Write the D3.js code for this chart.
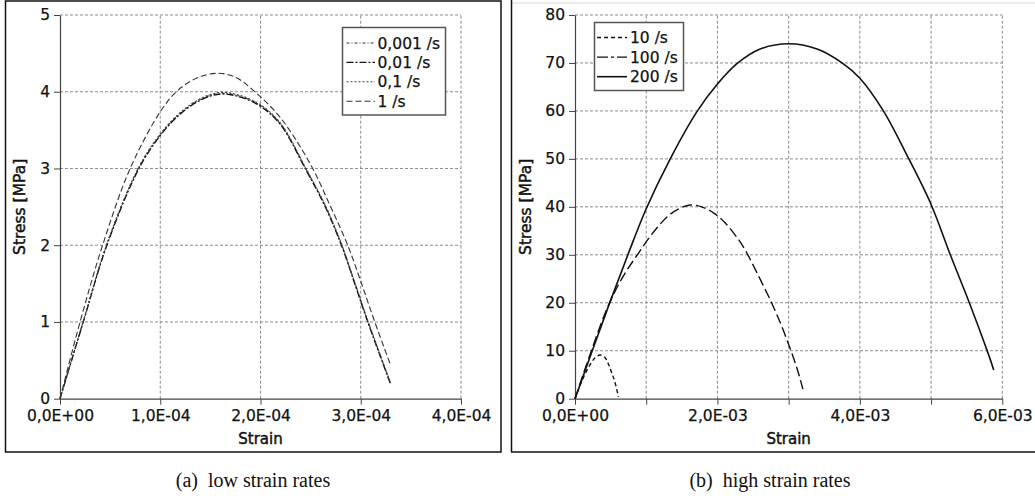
<!DOCTYPE html>
<html><head><meta charset="utf-8">
<script src="https://cdn.jsdelivr.net/npm/d3@7"></script>
<style>
html,body{margin:0;padding:0;background:#fff;}
svg{display:block;}
text{font-family:"DejaVu Sans",sans-serif;fill:#111;}
.cap{font-family:"Liberation Serif","Times New Roman",serif;}
</style></head>
<body>
<svg id="c" width="1035" height="496"></svg>
<script>
// ---------- DATA ----------
// (a) low strain rates: strain in units of 1E-4, stress in MPa
const lowSeriesNames = ["0,001 /s", "0,01 /s", "0,1 /s", "1 /s"];
const low0001Strain = [0,0.23,0.465,0.78,1.0,1.2,1.4,1.6,1.8,2.0,2.2,2.45,2.65,2.81,2.95,3.07,3.19,3.30];
const low0001Stress = [0,1.0,2.0,3.0,3.44,3.72,3.90,3.98,3.94,3.82,3.58,3.0,2.5,2.0,1.47,1.01,0.58,0.19];
const low001Strain  = [0,0.23,0.465,0.78,1.0,1.2,1.4,1.6,1.8,2.0,2.2,2.45,2.65,2.81,2.95,3.07,3.19,3.30];
const low001Stress  = [0,0.99,1.99,2.98,3.43,3.71,3.89,3.97,3.93,3.81,3.57,2.99,2.49,1.99,1.46,1.0,0.57,0.18];
const low01Strain   = [0,0.23,0.465,0.78,1.0,1.2,1.4,1.6,1.8,2.0,2.2,2.45,2.65,2.81,2.95,3.07,3.19,3.30];
const low01Stress   = [0,1.0,2.01,3.0,3.45,3.73,3.91,3.99,3.95,3.83,3.59,3.01,2.51,2.01,1.48,1.02,0.59,0.2];
const low1Strain    = [0,0.2,0.425,0.70,1.0,1.16,1.35,1.56,1.75,1.96,2.2,2.5,2.7,2.87,3.0,3.14,3.30];
const low1Stress    = [0,1.0,2.0,3.0,3.74,4.0,4.17,4.24,4.19,3.98,3.66,3.05,2.5,2.0,1.53,1.0,0.43];
const lowXTicks = [0,1,2,3,4];
const lowXTickLabels = ["0,0E+00","1,0E-04","2,0E-04","3,0E-04","4,0E-04"];
const lowYTicks = [0,1,2,3,4,5];

// (b) high strain rates: strain in units of 1E-3, stress in MPa
const highSeriesNames = ["10 /s", "100 /s", "200 /s"];
const high10Strain  = [0,0.1,0.2,0.28,0.35,0.42,0.47,0.515,0.56,0.61];
const high10Stress  = [0,3.8,6.8,8.5,9.1,8.6,7.2,5.4,3.5,0.4];
const high100Strain = [0,0.23,0.47,0.68,0.885,1.08,1.3,1.47,1.62,1.78,1.95,2.1,2.29,2.39,2.58,2.76,2.9,3.02,3.12,3.2];
const high100Stress = [0,10,19.5,25.6,30.2,34.3,38,39.7,40.4,40,38.7,36.8,33.3,31,25.5,20,15.2,10.5,6.2,2.0];
const high200Strain = [0,0.25,0.5,0.75,1.0,1.33,1.71,2.0,2.27,2.6,3.0,3.4,3.75,4.0,4.33,4.66,5.0,5.27,5.55,5.80,5.88];
const high200Stress = [0,10.3,20.5,30.3,39.6,49.8,59.8,65.6,69.8,72.9,74.0,72.9,70,66.8,60,50.8,40.5,30,19.5,9.5,6];
const highXTicks = [0,1,2,3,4,5,6];
const highXTickLabels = ["0,0E+00","","2,0E-03","","4,0E-03","","6,0E-03"];
const highYTicks = [0,10,20,30,40,50,60,70,80];

const captions = ["(a)  low strain rates", "(b)  high strain rates"];

// ---------- DRAW ----------
const svg = d3.select("#c");
const zip = (xs, ys) => xs.map((x, i) => [x, ys[i]]);

function panel(cfg) {
  const x = d3.scaleLinear().domain(cfg.xDomain).range([cfg.x0, cfg.x1]);
  const y = d3.scaleLinear().domain(cfg.yDomain).range([cfg.y0, cfg.y1]);
  const g = svg.append("g");

  // grid
  const grid = g.append("g").attr("stroke", "#8a8a8a").attr("stroke-width", 1).attr("stroke-dasharray", "3,2");
  cfg.xTicks.forEach(t => { if (t !== cfg.xDomain[0]) grid.append("line").attr("x1", x(t)).attr("x2", x(t)).attr("y1", cfg.y0).attr("y2", cfg.y1); });
  cfg.yTicks.forEach(t => { if (t !== cfg.yDomain[0]) grid.append("line").attr("y1", y(t)).attr("y2", y(t)).attr("x1", cfg.x0).attr("x2", cfg.x1); });

  // axes
  const xa = g.append("g").attr("transform", `translate(0,${cfg.y0})`)
    .call(d3.axisBottom(x).tickValues(cfg.xTicks).tickSizeInner(6).tickSizeOuter(0).tickPadding(5)
      .tickFormat((d, i) => cfg.xTickLabels[i]));
  const ya = g.append("g").attr("transform", `translate(${cfg.x0},0)`)
    .call(d3.axisLeft(y).tickValues(cfg.yTicks).tickSizeInner(6).tickSizeOuter(0).tickPadding(4)
      .tickFormat(d3.format("d")));
  [xa, ya].forEach(a => {
    a.selectAll("path.domain").attr("stroke", "#444").attr("stroke-width", 1.2);
    a.selectAll(".tick line").attr("stroke", "#444");
    a.selectAll("text").attr("font-size", 15.5).attr("font-family", "DejaVu Sans").attr("fill", "#111")
      .attr("stroke", "#111").attr("stroke-width", 0.25);
  });

  // axis titles
  g.append("text").attr("x", (cfg.x0 + cfg.x1) / 2).attr("y", 444).attr("text-anchor", "middle")
    .attr("font-size", 15).attr("stroke", "#111").attr("stroke-width", 0.45).text("Strain");
  g.append("text").attr("transform", `translate(${cfg.yTitleX},${(cfg.y0 + cfg.y1) / 2}) rotate(-90)`)
    .attr("text-anchor", "middle").attr("font-size", 15.5).attr("stroke", "#111").attr("stroke-width", 0.45).text("Stress [MPa]");

  // curves
  const line = d3.line().x(d => x(d[0])).y(d => y(d[1])).curve(d3.curveCatmullRom.alpha(0.5));
  cfg.series.forEach(s => {
    g.append("path").datum(s.data).attr("d", line).attr("fill", "none")
      .attr("stroke", s.color || "#111").attr("stroke-width", s.width || 1.3)
      .attr("stroke-dasharray", s.dash || null);
  });

  // legend
  const L = cfg.legend;
  g.append("rect").attr("x", L.x).attr("y", L.y).attr("width", L.w).attr("height", L.h)
    .attr("fill", "#fff").attr("stroke", "#555").attr("stroke-width", 1.5);
  cfg.series.forEach((s, i) => {
    const cy = L.firstY + i * L.step;
    g.append("line").attr("x1", L.lx0).attr("x2", L.lx1).attr("y1", cy).attr("y2", cy)
      .attr("stroke", s.color || "#111").attr("stroke-width", s.width || 1.3).attr("stroke-dasharray", s.legendDash || s.dash || null);
    g.append("text").attr("x", L.tx).attr("y", cy).attr("dy", "0.36em").attr("font-size", 15.5)
      .attr("stroke", "#111").attr("stroke-width", 0.25).text(s.name);
  });
}

// frames
svg.append("rect").attr("x", 5.5).attr("y", 1).attr("width", 495.5).attr("height", 451)
  .attr("fill", "none").attr("stroke", "#111").attr("stroke-width", 1.5);
svg.append("line").attr("x1", 512).attr("x2", 1035).attr("y1", 3).attr("y2", 3).attr("stroke", "#e4e4e4").attr("stroke-width", 1.5);
svg.append("line").attr("x1", 511.5).attr("x2", 511.5).attr("y1", 0).attr("y2", 452).attr("stroke", "#111").attr("stroke-width", 1.5);
svg.append("line").attr("x1", 511).attr("x2", 1035).attr("y1", 452).attr("y2", 452).attr("stroke", "#111").attr("stroke-width", 1.5);

panel({
  xDomain: [0, 4], yDomain: [0, 5], x0: 60, x1: 461, y0: 398.7, y1: 15,
  xTicks: lowXTicks, xTickLabels: lowXTickLabels, yTicks: lowYTicks, yTitleX: 25,
  series: [
    { name: lowSeriesNames[0], data: zip(low0001Strain, low0001Stress), dash: "3,2,1,2", color: "#333", width: 1.1 },
    { name: lowSeriesNames[1], data: zip(low001Strain, low001Stress), dash: "7,2,2,2", color: "#111", width: 1.3 },
    { name: lowSeriesNames[2], data: zip(low01Strain, low01Stress), dash: "2,2", color: "#444", width: 1.1 },
    { name: lowSeriesNames[3], data: zip(low1Strain, low1Stress), dash: "6,3", color: "#333", width: 1.1 }
  ],
  legend: { x: 342.5, y: 27.5, w: 103, h: 87.5, firstY: 43, step: 19.4, lx0: 346.5, lx1: 375, tx: 377.5 }
});

panel({
  xDomain: [0, 6], yDomain: [0, 80], x0: 575, x1: 1002.3, y0: 398.7, y1: 15,
  xTicks: highXTicks, xTickLabels: highXTickLabels, yTicks: highYTicks, yTitleX: 531,
  series: [
    { name: highSeriesNames[0], data: zip(high10Strain, high10Stress), dash: "4,3", width: 1.4 },
    { name: highSeriesNames[1], data: zip(high100Strain, high100Stress), dash: "10,4", legendDash: "11,3,3,3", width: 1.4 },
    { name: highSeriesNames[2], data: zip(high200Strain, high200Stress), dash: null, width: 1.6 }
  ],
  legend: { x: 594.5, y: 22.5, w: 89, h: 68, firstY: 37.5, step: 19.6, lx0: 597, lx1: 627, tx: 630 }
});

// captions
svg.append("text").attr("class", "cap").attr("x", 253).attr("y", 487).attr("text-anchor", "middle")
  .attr("font-size", 20).style("white-space", "pre").text(captions[0]);
svg.append("text").attr("class", "cap").attr("x", 770).attr("y", 487).attr("text-anchor", "middle")
  .attr("font-size", 20).style("white-space", "pre").text(captions[1]);
</script>
</body></html>
